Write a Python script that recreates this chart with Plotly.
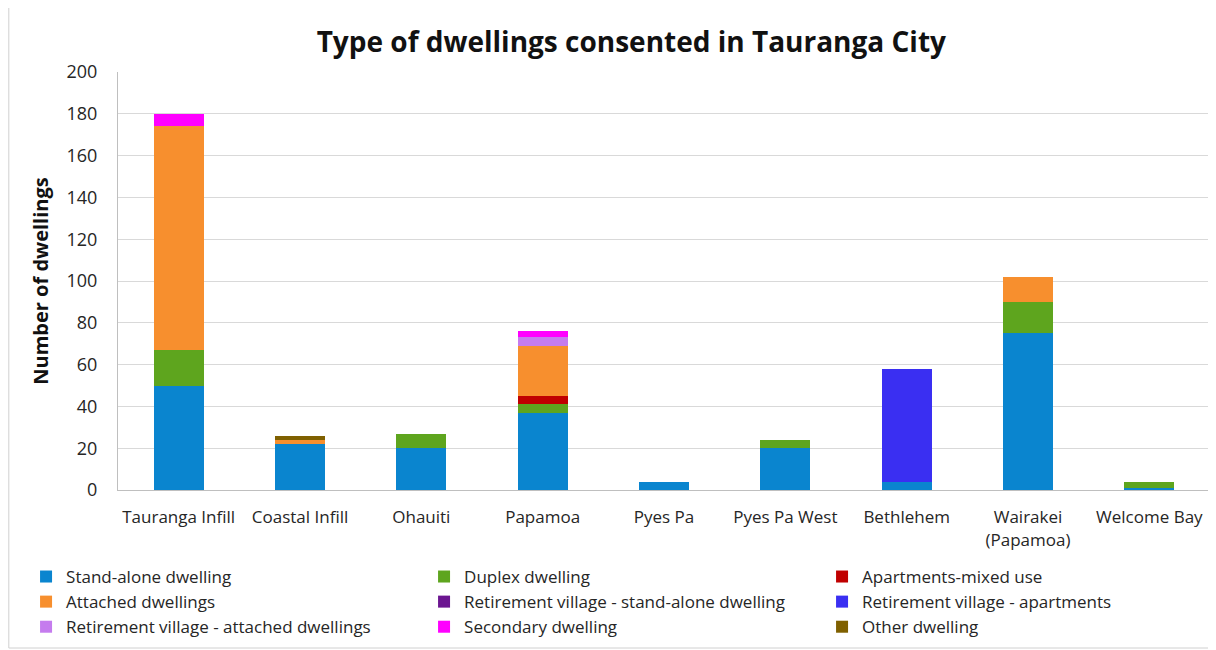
import plotly.graph_objects as go

categories = ["Tauranga Infill", "Coastal Infill", "Ohauiti", "Papamoa", "Pyes Pa",
              "Pyes Pa West", "Bethlehem", "Wairakei<br>(Papamoa)", "Welcome Bay"]

stand_alone      = [50, 22, 20, 37, 4, 20, 4, 75, 1]
duplex           = [17, 0, 7, 4, 0, 4, 0, 15, 3]
apartments_mixed = [0, 0, 0, 4, 0, 0, 0, 0, 0]
attached         = [107, 2, 0, 24, 0, 0, 0, 12, 0]
rv_standalone    = [0, 0, 0, 0, 0, 0, 0, 0, 0]
rv_apartments    = [0, 0, 0, 0, 0, 0, 54, 0, 0]
rv_attached      = [0, 0, 0, 4, 0, 0, 0, 0, 0]
secondary        = [6, 0, 0, 3, 0, 0, 0, 0, 0]
other            = [0, 2, 0, 0, 0, 0, 0, 0, 0]

series = [
    ("Stand-alone dwelling", stand_alone, "#0a85cf"),
    ("Duplex dwelling", duplex, "#5ea51e"),
    ("Apartments-mixed use", apartments_mixed, "#c00000"),
    ("Attached dwellings", attached, "#f78f2e"),
    ("Retirement village - stand-alone dwelling", rv_standalone, "#6b1590"),
    ("Retirement village - apartments", rv_apartments, "#3a2ff2"),
    ("Retirement village - attached dwellings", rv_attached, "#c57cee"),
    ("Secondary dwelling", secondary, "#ff00ff"),
    ("Other dwelling", other, "#7f6000"),
]

FONT = "'Open Sans', Lato, sans-serif"

fig = go.Figure()
for name, vals, col in series:
    fig.add_trace(go.Bar(name=name, x=categories, y=vals, marker=dict(color=col, line=dict(width=0))))

fig.update_layout(
    barmode="stack",
    bargap=0.59,
    width=1208, height=642,
    paper_bgcolor="white", plot_bgcolor="white",
    margin=dict(l=110, r=6, t=64, b=160, autoexpand=False),
    font=dict(family=FONT, size=17, color="#262626"),
    title=dict(text="<b>Type of dwellings consented in Tauranga City</b>",
               x=0.516, xanchor="center", y=0.947, yanchor="middle",
               font=dict(family=FONT, size=28, color="#111111")),
    xaxis=dict(showline=True, linecolor="#bfbfbf", linewidth=1, ticks="",
               ticklabelstandoff=12,
               tickfont=dict(size=17, color="#262626")),
    yaxis=dict(range=[0, 200], dtick=20, showgrid=True, gridcolor="#d9d9d9",
               showline=True, linecolor="#bfbfbf", zeroline=False,
               ticks="", ticklabelstandoff=16,
               tickfont=dict(size=18, color="#262626"),
               title=dict(text="<b>Number of dwellings</b>", standoff=12,
                          font=dict(size=20, color="#111111"))),
    legend=dict(orientation="h", x=-0.0842, xanchor="left", y=-0.165, yanchor="top",
                entrywidth=353, entrywidthmode="pixels", traceorder="normal",
                bgcolor="rgba(0,0,0,0)",
                font=dict(size=17, color="#262626"), itemwidth=30,
                tracegroupgap=0),
    shapes=[dict(type="rect", xref="paper", yref="paper", layer="below",
                 x0=-0.1, x1=1.01, y0=-0.378, y1=1.17,
                 line=dict(color="#d0d0d0", width=1))],
)

fig.write_html("out.html")
